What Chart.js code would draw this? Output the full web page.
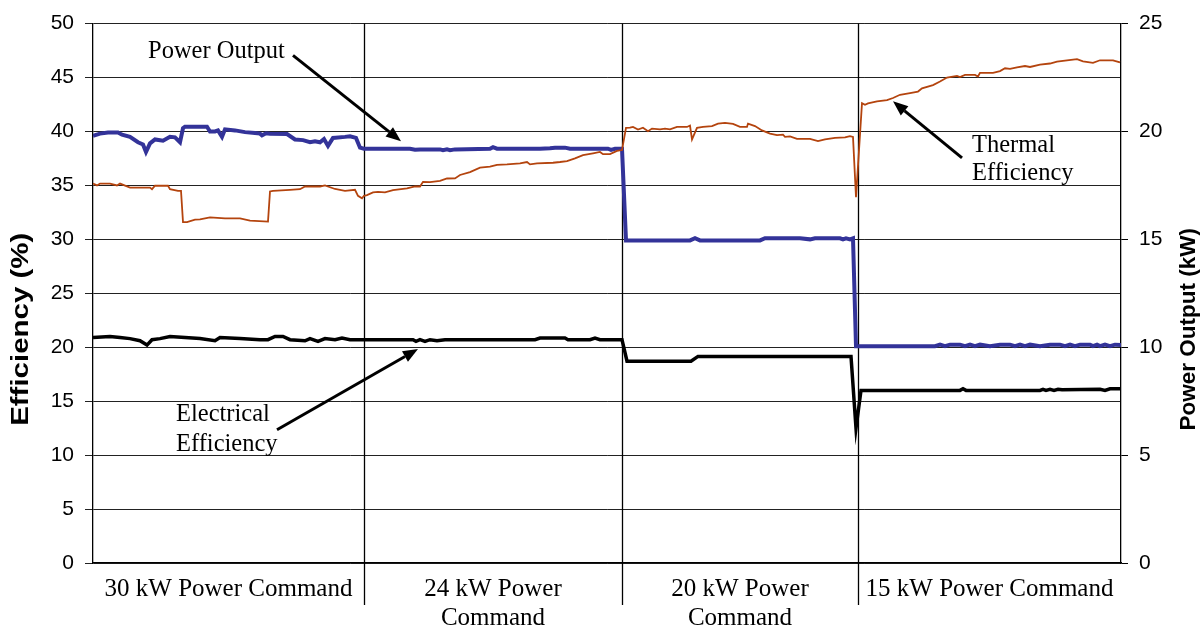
<!DOCTYPE html>
<html>
<head>
<meta charset="utf-8">
<script src="https://cdn.jsdelivr.net/npm/chart.js@4/dist/chart.umd.min.js"></script>
<style>
html,body{margin:0;padding:0;background:#fff;}
#wrap{width:1204px;height:629px;}
</style>
</head>
<body>
<div id="wrap"><canvas id="c" width="1204" height="629"></canvas></div>
<script>
// ---- Data (x = sample index along the test run) ----
const sectionLabels = [["30 kW Power Command"], ["24 kW Power", "Command"], ["20 kW Power", "Command"], ["15 kW Power Command"]];
const sectionBounds = [0, 271, 529, 765, 1028];

const thermalX = [0,4,7,17,24,27,37,57,59,62,75,77,85,88,90,94,102,107,117,132,147,157,175,177,180,197,207,212,227,232,242,252,262,265,269,271,274,280,285,292,300,314,322,327,330,337,347,354,362,367,377,387,397,404,414,427,434,437,444,460,467,474,482,490,500,507,510,517,524,529,533,537,540,545,550,555,559,567,572,577,584,594,597,599,604,610,619,625,632,640,647,654,655,662,669,677,684,690,692,697,704,717,725,732,742,752,757,760,763,769,772,775,784,794,800,807,817,825,829,840,847,854,864,867,872,882,885,887,900,907,912,917,924,932,937,947,957,964,974,984,990,1000,1007,1020,1027];
const thermalEff = [35.17,35.0,35.17,35.17,35.0,35.17,34.8,34.8,34.65,34.97,34.97,34.65,34.5,34.5,31.6,31.6,31.83,31.85,32.04,31.95,31.95,31.74,31.65,34.44,34.5,34.59,34.65,34.9,34.9,35.0,34.67,34.5,34.6,34.04,33.8,34.04,34.1,34.35,34.4,34.35,34.56,34.72,34.9,34.9,35.33,35.3,35.42,35.64,35.65,35.97,36.24,36.65,36.74,36.9,36.95,37.05,37.17,36.95,37.05,37.1,37.17,37.26,37.5,37.8,37.97,38.1,37.9,37.9,38.2,38.28,40.33,40.35,40.42,40.18,40.35,40.03,40.27,40.2,40.27,40.2,40.42,40.42,40.55,39.26,40.33,40.42,40.5,40.73,40.8,40.7,40.42,40.42,40.73,40.5,40.1,39.8,39.66,39.7,39.5,39.55,39.32,39.32,39.1,39.26,39.4,39.45,39.56,39.5,33.9,42.63,42.48,42.6,42.8,42.9,43.1,43.4,43.56,43.7,44.0,44.3,44.63,45.0,45.15,45.05,45.25,45.25,45.1,45.44,45.44,45.6,45.86,45.8,45.95,46.07,45.98,46.2,46.3,46.47,46.6,46.7,46.5,46.36,46.6,46.6,46.4];

const elecX = [0,17,27,37,47,54,59,67,77,92,107,122,127,147,167,175,182,190,197,212,217,225,232,242,249,257,271,287,320,323,327,332,337,344,352,442,447,472,475,497,502,507,529,534,598,605,758,763,768,867,870,873,947,950,953,957,961,965,969,1007,1012,1017,1028];
const elecEff = [20.9,21.0,20.9,20.8,20.6,20.2,20.7,20.8,21.0,20.9,20.8,20.6,20.9,20.8,20.7,20.7,21.0,21.0,20.7,20.6,20.8,20.55,20.8,20.7,20.85,20.7,20.7,20.7,20.7,20.55,20.7,20.55,20.7,20.6,20.7,20.7,20.85,20.85,20.7,20.7,20.85,20.7,20.7,18.7,18.7,19.15,19.15,12.5,16.0,16.0,16.15,16.0,16.0,16.1,16.0,16.1,16.0,16.1,16.05,16.1,16.0,16.15,16.15];

const powerX = [0,7,15,25,29,37,45,50,53,57,62,70,77,82,87,90,92,114,117,122,125,129,132,142,152,162,167,169,173,177,194,202,210,217,222,227,231,235,240,252,257,263,267,271,287,317,322,327,347,350,354,357,362,397,400,404,447,457,462,472,477,515,518,522,529,533,597,602,607,667,672,707,717,722,747,750,753,757,760,763,842,847,852,857,867,872,877,882,887,897,907,917,922,927,932,937,947,957,967,972,977,982,987,997,1000,1004,1007,1012,1017,1022,1028];
const powerKW = [19.8,19.9,19.95,19.95,19.85,19.75,19.5,19.4,19.05,19.45,19.63,19.57,19.75,19.73,19.5,20.15,20.22,20.22,20.0,20.0,20.05,19.75,20.1,20.05,19.97,19.93,19.9,19.82,19.92,19.9,19.88,19.63,19.6,19.5,19.55,19.5,19.65,19.33,19.7,19.75,19.78,19.7,19.25,19.2,19.2,19.2,19.15,19.17,19.17,19.13,19.17,19.13,19.17,19.2,19.27,19.2,19.2,19.22,19.25,19.25,19.2,19.2,19.15,19.2,19.2,14.95,14.95,15.05,14.95,14.95,15.05,15.05,15.0,15.05,15.05,15.0,15.05,15.0,15.05,10.05,10.05,10.12,10.05,10.12,10.12,10.05,10.12,10.05,10.12,10.05,10.12,10.12,10.05,10.12,10.05,10.12,10.05,10.12,10.12,10.05,10.12,10.05,10.12,10.12,10.05,10.12,10.05,10.12,10.05,10.12,10.1];

const effTicks = [0, 5, 10, 15, 20, 25, 30, 35, 40, 45, 50];
const powerTicks = [0, 5, 10, 15, 20, 25];

// callouts: text lines at (x, eff), arrow from (x,eff) to (x,eff)
const callouts = [
  { lines: ["Power Output"], x: 55, eff: [47.4], from: [200, 47.05], to: [308, 39.1] },
  { lines: ["Thermal", "Efficiency"], x: 879, eff: [38.7, 36.1], from: [869, 37.55], to: [800, 42.8] },
  { lines: ["Electrical", "Efficiency"], x: 83, eff: [13.8, 10.95], from: [184, 12.35], to: [325, 19.83] }
];

const pts = (xs, ys) => xs.map((x, i) => ({ x: x, y: ys[i] }));
const SERIF = "'Liberation Serif', 'Times New Roman', serif";
const SANS = "'Liberation Sans', Arial, sans-serif";

const overlay = {
  id: 'overlay',
  beforeDatasetsDraw(chart) {
    const ctx = chart.ctx, xs = chart.scales.x, ca = chart.chartArea;
    ctx.save();
    ctx.strokeStyle = '#000';
    ctx.lineWidth = 1.3;
    sectionBounds.slice(1, -1).forEach(b => {
      const px = Math.round(xs.getPixelForValue(b)) + 0.5;
      ctx.beginPath();
      ctx.moveTo(px, ca.top);
      ctx.lineTo(px, ca.bottom + 42);
      ctx.stroke();
    });
    ctx.restore();
  },
  afterDatasetsDraw(chart) {
    const ctx = chart.ctx, xs = chart.scales.x, ys = chart.scales.y, ca = chart.chartArea;
    ctx.save();
    ctx.fillStyle = '#000';
    ctx.strokeStyle = '#000';
    ctx.font = '24.5px ' + SERIF;
    ctx.textAlign = 'left';
    ctx.textBaseline = 'middle';
    callouts.forEach(c => {
      c.lines.forEach((t, i) => ctx.fillText(t, xs.getPixelForValue(c.x), ys.getPixelForValue(c.eff[i])));
      const x1 = xs.getPixelForValue(c.from[0]), y1 = ys.getPixelForValue(c.from[1]);
      const x2 = xs.getPixelForValue(c.to[0]), y2 = ys.getPixelForValue(c.to[1]);
      const ang = Math.atan2(y2 - y1, x2 - x1);
      const hl = 15, hw = 6;
      const bx = x2 - hl * Math.cos(ang), by = y2 - hl * Math.sin(ang);
      ctx.lineWidth = 3;
      ctx.beginPath(); ctx.moveTo(x1, y1); ctx.lineTo(bx, by); ctx.stroke();
      ctx.beginPath();
      ctx.moveTo(x2, y2);
      ctx.lineTo(bx + hw * Math.sin(ang), by - hw * Math.cos(ang));
      ctx.lineTo(bx - hw * Math.sin(ang), by + hw * Math.cos(ang));
      ctx.closePath(); ctx.fill();
    });
    // axis titles (both read bottom-to-top)
    ctx.textAlign = 'center';
    ctx.textBaseline = 'middle';
    const cy = (ca.top + ca.bottom) / 2;
    ctx.font = 'bold 23px ' + SANS;
    ctx.save(); ctx.translate(22, cy + 36); ctx.rotate(-Math.PI / 2); ctx.scale(1.28, 1); ctx.fillText('Efficiency (%)', 0, 0); ctx.restore();
    ctx.font = 'bold 22.5px ' + SANS;
    ctx.save(); ctx.translate(1189, cy + 36); ctx.rotate(-Math.PI / 2); ctx.fillText('Power Output (kW)', 0, 0); ctx.restore();
    ctx.restore();
  }
};

new Chart(document.getElementById('c'), {
  type: 'line',
  data: {
    datasets: [
      { label: 'Thermal Efficiency', data: pts(thermalX, thermalEff), yAxisID: 'y', borderColor: '#B4440E', borderWidth: 1.8, pointRadius: 0, tension: 0 },
      { label: 'Power Output', data: pts(powerX, powerKW), yAxisID: 'y2', borderColor: '#333399', borderWidth: 4, pointRadius: 0, tension: 0 },
      { label: 'Electrical Efficiency', data: pts(elecX, elecEff), yAxisID: 'y', borderColor: '#000000', borderWidth: 3.5, pointRadius: 0, tension: 0 }
    ]
  },
  options: {
    responsive: false,
    animation: false,
    events: [],
    layout: { padding: { top: 21, left: 0, right: 0, bottom: 0 } },
    plugins: { legend: { display: false }, tooltip: { enabled: false } },
    scales: {
      x: {
        type: 'linear', position: 'bottom', min: sectionBounds[0], max: sectionBounds[sectionBounds.length - 1],
        grid: { display: false },
        border: { display: true, color: '#000', width: 1.3 },
        afterBuildTicks: s => { s.ticks = sectionBounds.slice(0, -1).map((b, i) => ({ value: (b + sectionBounds[i + 1]) / 2 })); },
        afterFit: s => { s.height = 66; },
        ticks: {
          autoSkip: false, maxRotation: 0, minRotation: 0, padding: 4, color: '#000',
          font: { family: SERIF, size: 25, lineHeight: 1.16 },
          callback: (v, i) => sectionLabels[i]
        }
      },
      y: {
        position: 'left', min: 0, max: 50,
        afterBuildTicks: s => { s.ticks = effTicks.map(v => ({ value: v })); },
        afterFit: s => { s.width = 93; },
        grid: { color: '#222', lineWidth: 1, tickLength: 8, drawTicks: true },
        border: { display: true, color: '#000', width: 1.3 },
        ticks: { color: '#000', padding: 11, font: { family: SANS, size: 21 } }
      },
      y2: {
        position: 'right', min: 0, max: 25,
        afterBuildTicks: s => { s.ticks = powerTicks.map(v => ({ value: v })); },
        afterFit: s => { s.width = 83; },
        grid: { drawOnChartArea: false, color: '#000', tickLength: 7, drawTicks: true },
        border: { display: true, color: '#000', width: 1.3 },
        ticks: { color: '#000', padding: 11, font: { family: SANS, size: 21 } }
      }
    }
  },
  plugins: [overlay]
});
</script>
</body>
</html>
